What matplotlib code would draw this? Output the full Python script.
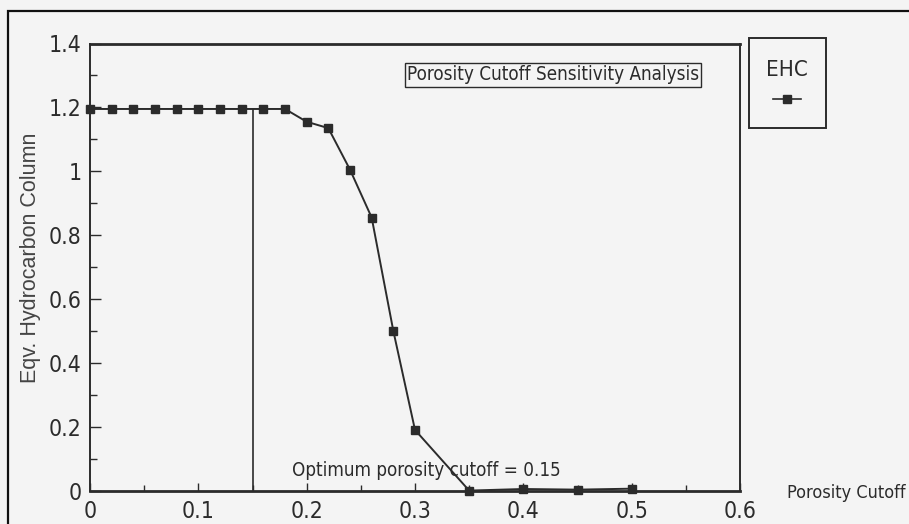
import numpy as np
import matplotlib
matplotlib.use('Agg')
import matplotlib.pyplot as plt
from matplotlib.patches import Rectangle
from matplotlib.lines import Line2D
from matplotlib.ticker import MultipleLocator

# Data
porosity_cutoff = [0.00, 0.02, 0.04, 0.06, 0.08, 0.10, 0.12, 0.14, 0.16, 0.18,
                   0.20, 0.22, 0.24, 0.26, 0.28, 0.30, 0.35, 0.40, 0.45, 0.50]
ehc = [1.195, 1.195, 1.195, 1.195, 1.195, 1.195, 1.195, 1.195, 1.195, 1.195,
       1.155, 1.135, 1.005, 0.855, 0.50, 0.19, 0.0, 0.005, 0.003, 0.006]
optimum_cutoff = 0.15
x_ticks = [0, 0.1, 0.2, 0.3, 0.4, 0.5, 0.6]
x_tick_labels = ['0', '0.1', '0.2', '0.3', '0.4', '0.5', '0.6']
y_ticks = [0, 0.2, 0.4, 0.6, 0.8, 1.0, 1.2, 1.4]
y_tick_labels = ['0', '0.2', '0.4', '0.6', '0.8', '1', '1.2', '1.4']

# narrow face like the scanned original
plt.rcParams['font.family'] = ['DejaVu Sans']
plt.rcParams['font.stretch'] = 'condensed'

ink = '#2b2b2b'
bg = '#f4f4f4'

fig = plt.figure(figsize=(9.09, 5.24), dpi=100, facecolor=bg)
ax = fig.add_axes([90 / 909, 1 - 490.6 / 524, 650 / 909, (490.6 - 43.5) / 524])
ax.set_facecolor(bg)

ax.plot(porosity_cutoff, ehc, color=ink, linewidth=1.4, marker='s',
        markersize=5.5, markerfacecolor=ink, markeredgecolor=ink, clip_on=False)
ax.plot([optimum_cutoff, optimum_cutoff], [0, ehc[0]], color=ink, linewidth=1.2)

ax.set_xlim(0, 0.6)
ax.set_ylim(0, 1.4)
ax.set_xticks(x_ticks)
ax.set_xticklabels(x_tick_labels)
ax.set_yticks(y_ticks)
ax.set_yticklabels(y_tick_labels)
ax.xaxis.set_minor_locator(MultipleLocator(0.05))
ax.yaxis.set_minor_locator(MultipleLocator(0.1))
ax.tick_params(axis='both', which='both', direction='in', colors=ink,
               labelsize=16.5, top=False, right=False)
ax.tick_params(axis='y', which='major', length=8, width=1.0, pad=6)
ax.tick_params(axis='y', which='minor', length=5, width=1.0)
ax.tick_params(axis='x', which='major', length=6, width=1.0, pad=7)
ax.tick_params(axis='x', which='minor', length=4, width=1.0)
for side in ['top', 'bottom']:
    ax.spines[side].set_linewidth(2.0)
for side in ['left', 'right']:
    ax.spines[side].set_linewidth(1.4)
for s in ax.spines.values():
    s.set_color(ink)

ax.text(0.186, 0.062, 'Optimum porosity cutoff = %.2f' % optimum_cutoff,
        fontsize=13.5, color=ink, ha='left', va='center')

# chart title in a box inside the plot
fig.text(553 / 909, 1 - 75 / 524, 'Porosity Cutoff Sensitivity Analysis',
         fontsize=13.5, color=ink, ha='center', va='center',
         bbox=dict(boxstyle='square,pad=0.12', facecolor=bg, edgecolor=ink, linewidth=1.0))

# axis labels
fig.text(31 / 909, 1 - 258 / 524, 'Eqv. Hydrocarbon Column', rotation=90,
         fontsize=15.5, color='#444444', ha='center', va='center',
         family=['Liberation Sans', 'DejaVu Sans'], stretch='normal')
fig.text(846 / 909, 1 - 493 / 524, 'Porosity Cutoff', fontsize=13,
         color=ink, ha='center', va='center')

# legend box
fig.add_artist(Rectangle((749 / 909, 1 - 128 / 524), 77 / 909, 90 / 524,
                         transform=fig.transFigure, facecolor=bg,
                         edgecolor=ink, linewidth=1.4))
fig.text(787 / 909, 1 - 70 / 524, 'EHC', fontsize=16, color=ink,
         ha='center', va='center')
fig.add_artist(Line2D([773 / 909, 801 / 909], [1 - 99 / 524, 1 - 99 / 524],
                      transform=fig.transFigure, color=ink, linewidth=1.2))
fig.add_artist(Line2D([787 / 909], [1 - 99 / 524], transform=fig.transFigure,
                      marker='s', markersize=5.5, color=ink, linestyle='none'))

# outer frame of the scanned figure
fig.add_artist(Rectangle((8 / 909, -0.2), 1.2, 1.2 - 11 / 524,
                         transform=fig.transFigure, facecolor='none',
                         edgecolor='#111111', linewidth=1.6, clip_on=False))

fig.savefig('out.png', dpi=100, facecolor=bg)
